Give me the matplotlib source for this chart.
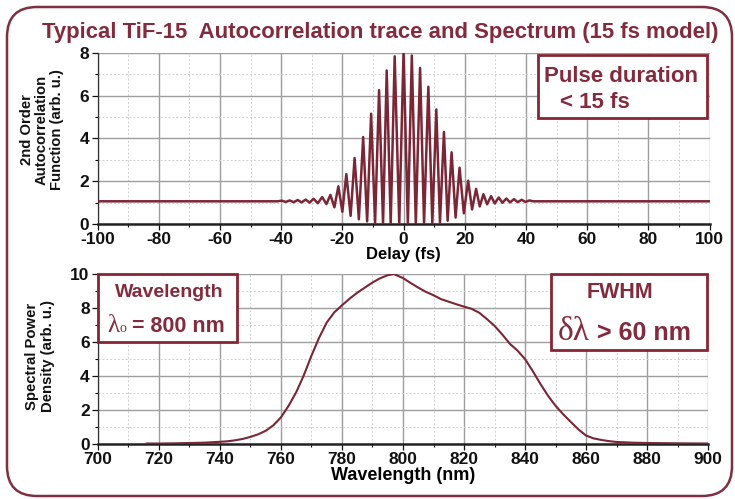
import matplotlib
matplotlib.use('Agg')
import matplotlib.pyplot as plt
from matplotlib.patches import Rectangle, FancyBboxPatch

# --- Autocorrelation trace: fringe maxima and minima
peak_delay = [-39.8, -37.2, -34.6, -32.0, -29.4, -26.6, -23.9, -21.3, -18.7, -16.0,
              -13.2, -10.6, -8.0, -5.5, -2.9, 0.0, 2.7, 5.4, 8.1, 10.7, 13.2, 15.7,
              18.3, 21.1, 23.7, 26.1, 28.6, 31.1, 33.6, 36.1, 38.6, 41.1]
peak_value = [1.09, 1.10, 1.12, 1.14, 1.18, 1.26, 1.36, 1.76, 2.33, 3.08,
              4.06, 5.15, 6.25, 7.17, 7.83, 8.05, 7.87, 7.29, 6.41, 5.35, 4.30, 3.35,
              2.63, 2.02, 1.64, 1.39, 1.30, 1.24, 1.19, 1.16, 1.13, 1.10]
trough_delay = [-38.5, -35.9, -33.3, -30.7, -28.0, -25.2, -22.6, -20.0, -17.3, -14.6,
                -11.9, -9.3, -6.7, -4.2, -1.4, 1.4, 4.0, 6.7, 9.4, 11.9, 14.4, 17.0,
                19.7, 22.4, 24.9, 27.3, 29.8, 32.3, 34.8, 37.3, 39.8]
trough_value = [1.03, 1.02, 1.01, 1.00, 0.97, 0.93, 0.78, 0.57, 0.38, 0.22,
                0.12, 0.04, 0.0, 0.0, 0.0, 0.0, 0.0, 0.0, 0.02, 0.06, 0.15, 0.30,
                0.50, 0.68, 0.82, 0.92, 0.96, 0.99, 1.01, 1.02, 1.03]
wing_delay = [-100, -41.2, 42.4, 100]
wing_value = [1.06, 1.06, 1.06, 1.06]

# --- Spectrum
spec_nm = [716, 720, 725, 730, 735, 740, 742.5, 745, 747.5, 750, 752.5, 755, 757.5,
           760, 762.5, 765, 767.5, 770, 772.5, 775, 777.5, 780, 782.5, 785, 787.5,
           790, 792.5, 795, 797, 800, 802.5, 805, 807.5, 810, 812.5, 815, 817.5,
           820, 822.5, 825, 827.5, 830, 832.5, 835, 837.5, 840, 842.5, 845, 847.5,
           850, 852.5, 855, 857.5, 860, 862.5, 865, 867.5, 870, 875, 880, 890, 900]
spec_val = [0.03, 0.03, 0.04, 0.06, 0.08, 0.13, 0.16, 0.22, 0.30, 0.42, 0.57, 0.78,
            1.10, 1.57, 2.25, 3.05, 4.05, 5.2, 6.25, 7.15, 7.75, 8.16, 8.55, 8.9, 9.2,
            9.5, 9.75, 9.93, 10.0, 9.76, 9.47, 9.2, 8.95, 8.75, 8.52, 8.37, 8.22,
            8.08, 7.95, 7.72, 7.35, 6.95, 6.45, 5.9, 5.5, 5.0, 4.3, 3.55, 2.85,
            2.25, 1.75, 1.3, 0.86, 0.5, 0.33, 0.24, 0.17, 0.12, 0.08, 0.06, 0.04, 0.03]

ac_ticks = [-100, -80, -60, -40, -20, 0, 20, 40, 60, 80, 100]
ac_minor = [-90, -70, -50, -30, -10, 10, 30, 50, 70, 90]
ac_yticks = [0, 2, 4, 6, 8]
ac_yminor = [1, 3, 5, 7]
nm_ticks = [700, 720, 740, 760, 780, 800, 820, 840, 860, 880, 900]
nm_minor = [710, 730, 750, 770, 790, 810, 830, 850, 870, 890]
spec_yticks = [0, 2, 4, 6, 8, 10]
spec_yminor = [1, 3, 5, 7, 9]

# Farben
maroon_txt = '#832b3d'
maroon_line = '#7b2636'
maroon_box = '#862634'
maroon_frame = '#7f3040'

plt.rcParams['font.family'] = ['Liberation Sans', 'DejaVu Sans']
plt.rcParams['font.weight'] = 'bold'
plt.rcParams['axes.unicode_minus'] = False

fig = plt.figure(figsize=(7.35, 4.99), dpi=100)

# Rahmen um alles
rahmen = FancyBboxPatch((0.07, 0.03), 7.25, 4.89, boxstyle='round,pad=0,rounding_size=0.3',
                        transform=fig.dpi_scale_trans, fill=False, edgecolor=maroon_frame,
                        linewidth=1.8)
fig.patches.append(rahmen)

fig.text(0.518, 0.934, 'Typical TiF-15  Autocorrelation trace and Spectrum (15 fs model)',
         ha='center', va='center', fontsize=15.9, fontweight='bold', color=maroon_txt)

ax1 = fig.add_axes([0.1327, 0.5511, 0.8327, 0.3433])
ax2 = fig.add_axes([0.1333, 0.1102, 0.8300, 0.3407])


def style_axes(ax, xt, xm, yt, ym):
    ax.set_xticks(xt, labels=[str(t) for t in xt], fontweight='bold', fontsize=12.5)
    ax.set_xticks(xm, minor=True)
    ax.set_yticks(yt, labels=[str(t) for t in yt], fontweight='bold', fontsize=12.5)
    ax.set_yticks(ym, minor=True)
    ax.grid(True, which='major', color='#9e9e9e', linewidth=1.0, linestyle='-')
    ax.grid(True, which='minor', color='#cfcfcf', linewidth=0.7, linestyle=(0, (2, 2)))
    ax.set_axisbelow(True)
    ax.spines['top'].set_visible(False)
    ax.spines['right'].set_visible(False)
    ax.spines['bottom'].set_linewidth(1.8)
    ax.spines['bottom'].set_color('#222222')
    ax.spines['left'].set_linewidth(0.9)
    ax.spines['left'].set_color('#333333')
    ax.tick_params(which='major', direction='out', length=4, width=0.9, pad=2,
                   colors='#111111')
    ax.tick_params(which='minor', direction='out', length=2.5, width=0.8)


# ---- oben: Autokorrelation
punkte = sorted(zip(peak_delay + trough_delay + wing_delay,
                    peak_value + trough_value + wing_value))
ax1.plot([p[0] for p in punkte], [p[1] for p in punkte], color=maroon_line,
         linewidth=1.8, solid_joinstyle='round', zorder=3)
ax1.set_xlim(-100, 100)
ax1.set_ylim(0, 8)
style_axes(ax1, ac_ticks, ac_minor, ac_yticks, ac_yminor)
ax1.set_xlabel('Delay (fs)', fontsize=12, fontweight='bold', labelpad=0)

ax1.add_patch(Rectangle((43.8, 4.95), 55.5, 2.95, facecolor='white', edgecolor=maroon_box,
                        linewidth=2.0, zorder=5))
ax1.text(71.2, 6.65, 'Pulse duration', ha='center', va='baseline', fontsize=16,
         fontweight='bold', color=maroon_txt, zorder=6)
ax1.text(51.0, 5.4, '< 15 fs', ha='left', va='baseline', fontsize=16,
         fontweight='bold', color=maroon_txt, zorder=6)

fig.text(42 / 735, 1 - 130 / 499, '2nd Order\nAutocorrelation\nFunction (arb. u.)',
         rotation=90, ha='center', va='center', multialignment='center',
         fontsize=10.7, fontweight='bold', linespacing=1.1, color='#111111')

# ---- unten: Spektrum
ax2.plot(spec_nm, spec_val, color=maroon_line, linewidth=1.5, zorder=3)
ax2.set_xlim(700, 900)
ax2.set_ylim(0, 10)
style_axes(ax2, nm_ticks, nm_minor, spec_yticks, spec_yminor)
ax2.set_xlabel('Wavelength (nm)', fontsize=13, fontweight='bold', labelpad=0)

ax2.add_patch(Rectangle((700, 6.0), 45.6, 4.0, facecolor='white', edgecolor=maroon_box,
                        linewidth=2.0, zorder=5, clip_on=False))
ax2.text(723.3, 8.66, 'Wavelength', ha='center', va='baseline', fontsize=14,
         fontweight='bold', color=maroon_txt, zorder=6)
t1 = ax2.text(703.0, 6.6, 'λ', ha='left', va='baseline', fontsize=18,
              family='Liberation Serif', fontweight='normal', color=maroon_txt, zorder=6)
t2 = ax2.annotate('o', xy=(1, 6.6), xycoords=(t1, 'data'), ha='left', va='baseline',
                  fontsize=10, family='Liberation Serif', fontweight='normal',
                  color=maroon_txt, zorder=6)
ax2.annotate(' = 800 nm', xy=(1, 6.6), xycoords=(t2, 'data'), ha='left', va='baseline',
             fontsize=15.5, fontweight='bold', color=maroon_txt, zorder=6)

ax2.add_patch(Rectangle((848.5, 5.53), 51.2, 4.47, facecolor='white', edgecolor=maroon_box,
                        linewidth=2.0, zorder=5, clip_on=False))
ax2.text(871.1, 8.57, 'FWHM', ha='center', va='baseline', fontsize=15.5,
         fontweight='bold', color=maroon_txt, zorder=6)
t3 = ax2.text(850.8, 6.12, 'δλ', ha='left', va='baseline', fontsize=24,
              family='Liberation Serif', fontweight='normal', color=maroon_txt, zorder=6)
ax2.annotate(' > 60 nm', xy=(1, 6.12), xycoords=(t3, 'data'), ha='left', va='baseline',
             fontsize=18, fontweight='bold', color=maroon_txt, zorder=6)

fig.text(40 / 735, 1 - 356 / 499, 'Spectral Power\nDensity (arb. u.)',
         rotation=90, ha='center', va='center', multialignment='center',
         fontsize=10.7, fontweight='bold', linespacing=1.1, color='#111111')

fig.savefig('out.png', dpi=100, facecolor='white')
